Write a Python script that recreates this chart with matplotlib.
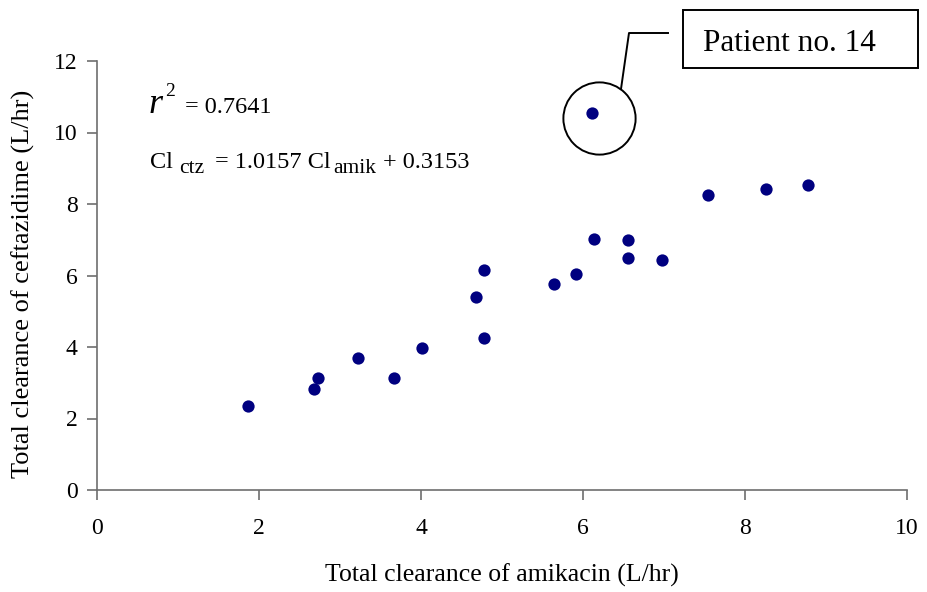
import matplotlib
matplotlib.use("Agg")
import matplotlib.pyplot as plt
from matplotlib.lines import Line2D
from matplotlib.patches import Rectangle

plt.rcParams['font.family'] = ['Liberation Serif', 'DejaVu Serif']

# Data (L/hr)
cl_amikacin = [1.86, 2.68, 2.73, 3.22, 3.67, 4.01, 4.68, 4.78, 4.78, 5.64,
               5.91, 6.14, 6.11, 6.56, 6.56, 6.98, 7.54, 8.26, 8.78]
cl_ceftazidime = [2.34, 2.83, 3.13, 3.68, 3.13, 3.96, 5.41, 6.14, 4.24, 5.75,
                  6.03, 7.03, 10.55, 6.98, 6.48, 6.42, 8.26, 8.43, 8.54]
highlight_index = 12  # Patient no. 14
x_ticks = [0, 2, 4, 6, 8, 10]
y_ticks = [0, 2, 4, 6, 8, 10, 12]
r2_text = "= 0.7641"
eq_parts = [("Cl", False), ("ctz", True), ("= 1.0157 Cl", False), ("amik", True), ("+ 0.3153", False)]

W, H = 927, 592
fig = plt.figure(figsize=(W / 100, H / 100), dpi=100)

def px(x, y):
    return x / W, 1 - y / H

ax_l, ax_b, ax_r, ax_t = 97, 490, 907, 61
ax = fig.add_axes([ax_l / W, 1 - ax_b / H, (ax_r - ax_l) / W, (ax_b - ax_t) / H])
ax.scatter(cl_amikacin, cl_ceftazidime, s=78, color='#000080', zorder=3, linewidths=0)

ax.set_xlim(0, 10)
ax.set_ylim(0, 12)
ax.set_xticks(x_ticks)
ax.set_yticks(y_ticks)
ax.tick_params(direction='out', length=7, width=1.2, color='#6e6e6e', labelsize=17)
ax.tick_params(axis='x', pad=13)
ax.tick_params(axis='y', pad=7)
for s in ['top', 'right']:
    ax.spines[s].set_visible(False)
for s in ['left', 'bottom']:
    ax.spines[s].set_color('#6e6e6e')
    ax.spines[s].set_linewidth(1.2)

ax.set_xlabel("Total clearance of amikacin (L/hr)", fontsize=18.5, va='baseline')
ax.xaxis.set_label_coords(0.5, (ax_b - 582) / (ax_b - ax_t))
ax.set_ylabel("Total clearance of ceftazidime (L/hr)", fontsize=19, va='center')
ax.yaxis.set_label_coords((23 - ax_l) / (ax_r - ax_l), (ax_b - 284) / (ax_b - ax_t))

# circle around highlighted point
hx = cl_amikacin[highlight_index]
hy = cl_ceftazidime[highlight_index]
ax.plot([hx + 0.085], [hy - 0.14], marker='o', ms=52, mfc='none', mec='black', mew=1.4,
        clip_on=False, zorder=2)

# callout line
(x0, y0), (x1, y1), (x2, y2) = px(621, 89), px(629, 33), px(668, 33)
fig.add_artist(Line2D([x0, x1, x2], [y0, y1, y2], transform=fig.transFigure,
                      color='black', lw=1.4))
# box
bx0, by0 = px(683, 68)
bx1, by1 = px(918, 10)
fig.add_artist(Rectangle((bx0, by0), bx1 - bx0, by1 - by0, transform=fig.transFigure,
                         fill=False, ec='black', lw=1.4))
fig.text(*px(703, 51), "Patient no. 14", fontsize=22.5, ha='left', va='baseline')

# r^2 annotation
fig.text(*px(149, 113), "r", fontsize=26, style='italic', ha='left', va='baseline')
fig.text(*px(165, 96), "2", fontsize=14, ha='left', va='baseline')
fig.text(*px(185, 113), r2_text, fontsize=17.5, ha='left', va='baseline')

# regression equation
eq_x = [150, 179, 215, 333, 383]
for (txt, sub), xpos in zip(eq_parts, eq_x):
    fig.text(*px(xpos, 173 if sub else 168), txt, fontsize=15.5 if sub else 17.5,
             ha='left', va='baseline')

fig.savefig("out.png", dpi=100)
